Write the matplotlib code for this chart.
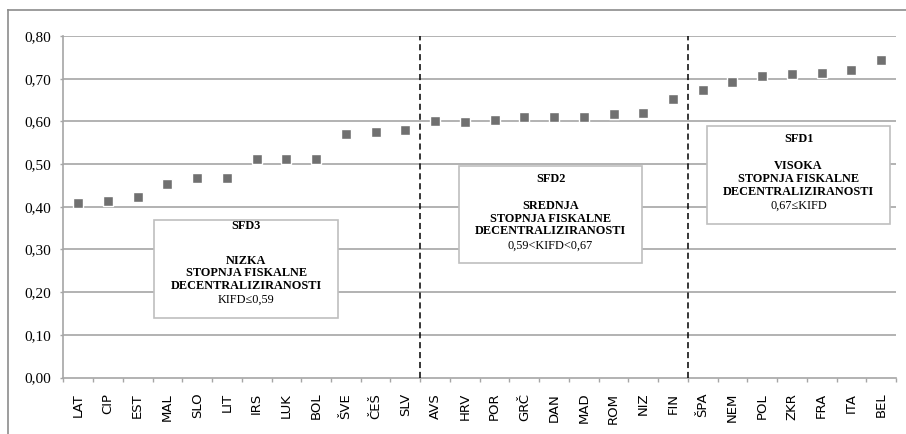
import numpy as np
import matplotlib.pyplot as plt
from matplotlib.patches import Rectangle
from matplotlib.lines import Line2D
from matplotlib.ticker import FuncFormatter, FixedLocator

# Data (KIFD index per country)
countries = ['LAT', 'CIP', 'EST', 'MAL', 'SLO', 'LIT', 'IRS', 'LUK', 'BOL', 'ŠVE',
             'ČEŠ', 'SLV', 'AVS', 'HRV', 'POR', 'GRČ', 'DAN', 'MAD', 'ROM', 'NIZ',
             'FIN', 'ŠPA', 'NEM', 'POL', 'ZKR', 'FRA', 'ITA', 'BEL']
kifd = [0.410, 0.414, 0.424, 0.453, 0.467, 0.467, 0.513, 0.513, 0.513, 0.571,
        0.575, 0.581, 0.600, 0.599, 0.603, 0.611, 0.611, 0.611, 0.617, 0.620,
        0.652, 0.673, 0.693, 0.707, 0.711, 0.714, 0.721, 0.745]
y_ticks = [0.0, 0.1, 0.2, 0.3, 0.4, 0.5, 0.6, 0.7, 0.8]
group_breaks = ['SLV', 'FIN']  # dashed line after these countries

box_titles = ['SFD3', 'SFD2', 'SFD1']
box_bodies = ['NIZKA\nSTOPNJA FISKALNE\nDECENTRALIZIRANOSTI',
              'SREDNJA\nSTOPNJA FISKALNE\nDECENTRALIZIRANOSTI',
              'VISOKA\nSTOPNJA FISKALNE\nDECENTRALIZIRANOSTI']
box_conditions = ['KIFD≤0,59', '0,59<KIFD<0,67', '0,67≤KIFD']

# box layout: (x0, x1, y0, y1) in data coords and text line positions
box_rects = [(2.56, 8.74, 0.140, 0.369),
             (12.80, 18.97, 0.268, 0.496),
             (21.14, 27.31, 0.360, 0.589)]
box_text_y = [(0.354, 0.244, 0.182),
              (0.464, 0.372, 0.309),
              (0.558, 0.465, 0.403)]

fig = plt.figure(figsize=(9.06, 4.34), dpi=100)
ax = fig.add_axes([0.0699, 0.130, 0.9191, 0.787])

x = np.arange(len(countries))
grid_col = '#a6a6a6'

ax.set_xlim(-0.5, len(countries) - 0.5)
ax.set_ylim(0, 0.8)
ax.set_yticks(y_ticks)
ax.yaxis.set_major_formatter(FuncFormatter(lambda v, p: f"{v:.2f}".replace('.', ',')))
for v in y_ticks[1:]:
    ax.axhline(v, color=grid_col, lw=1.2, zorder=1)

ax.plot(x, kifd, ls='none', marker='s', ms=7.8, color='#707070',
        mec='white', mew=1.0, zorder=4)

for c in group_breaks:
    bx = countries.index(c) + 0.5
    ax.plot([bx, bx], [0, 0.8], color='black', lw=1.1, ls=(0, (4, 2.5)), zorder=3)

for (x0, x1, y0, y1), t, b, cnd, (ty, by, cy) in zip(box_rects, box_titles, box_bodies,
                                                     box_conditions, box_text_y):
    ax.add_patch(Rectangle((x0, y0), x1 - x0, y1 - y0, facecolor='white',
                           edgecolor='#bfbfbf', lw=1.2, zorder=5))
    xc = (x0 + x1) / 2
    ax.text(xc, ty, t, ha='center', va='center', family='Liberation Serif',
            fontweight='bold', fontsize=8.8, zorder=6)
    ax.text(xc, by, b, ha='center', va='center', family='Liberation Serif',
            fontweight='bold', fontsize=8.8, linespacing=1.08, zorder=6)
    ax.text(xc, cy, cnd, ha='center', va='center', family='Liberation Serif',
            fontsize=8.8, zorder=6)

ax.set_xticks(x)
ax.set_xticklabels(countries, rotation=90, family='DejaVu Sans', fontsize=9.5)
ax.xaxis.set_minor_locator(FixedLocator(np.arange(len(countries) + 1) - 0.5))
ax.tick_params(axis='x', which='major', length=0, pad=11)
ax.tick_params(axis='x', which='minor', length=3, width=1, color=grid_col)
ax.tick_params(axis='y', length=2, width=1, color=grid_col, pad=7)
for lab in ax.get_yticklabels():
    lab.set_family('Liberation Serif')
    lab.set_fontsize(11)

for s in ['top', 'right']:
    ax.spines[s].set_visible(False)
for s in ['left', 'bottom']:
    ax.spines[s].set_color(grid_col)
    ax.spines[s].set_linewidth(1.2)

# outer chart frame (only left and top visible in the crop)
fig.add_artist(Line2D([7.5 / 906, 7.5 / 906], [0, 1 - 10 / 434], color='#8c8c8c', lw=1.2))
fig.add_artist(Line2D([7.5 / 906, 1], [1 - 10 / 434, 1 - 10 / 434], color='#8c8c8c', lw=1.2))

fig.savefig('out.png', dpi=100)
